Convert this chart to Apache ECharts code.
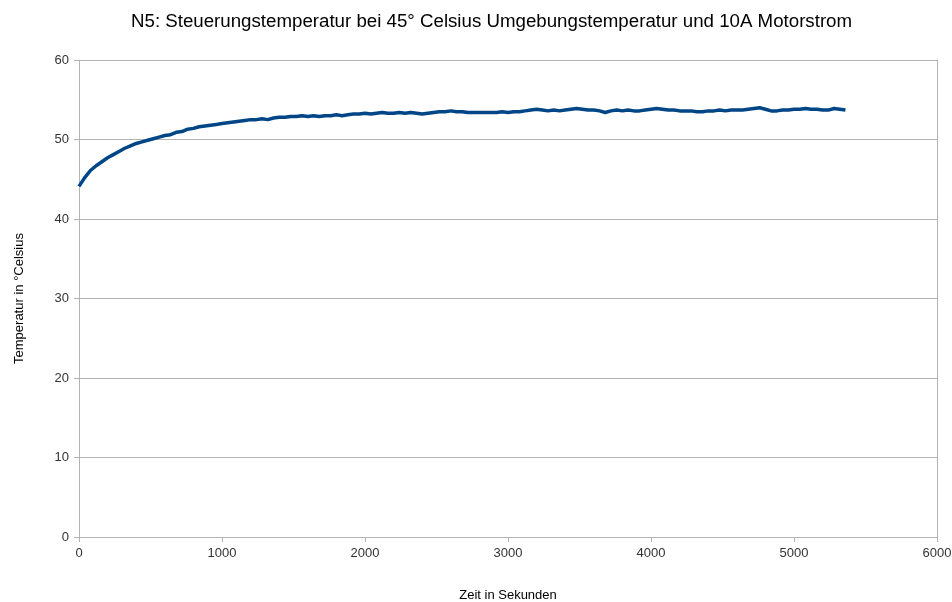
<!DOCTYPE html>
<html>
<head>
<meta charset="utf-8">
<script src="https://cdn.jsdelivr.net/npm/echarts@6/dist/echarts.min.js"></script>
<style>
html,body{margin:0;padding:0;background:#fff;}
#c{width:952px;height:602px;}
</style>
</head>
<body>
<div id="c"></div>
<script>
const titleText = "N5: Steuerungstemperatur bei 45° Celsius Umgebungstemperatur und 10A Motorstrom";
const xName = "Zeit in Sekunden";
const yName = "Temperatur in °Celsius";
const times = [0,40,80,120,160,200,240,280,320,360,400,440,480,520,560,600,640,680,720,760,800,840,880,920,960,1000,1040,1080,1120,1160,1200,1240,1280,1320,1360,1400,1440,1480,1520,1560,1600,1640,1680,1720,1760,1800,1840,1880,1920,1960,2000,2040,2080,2120,2160,2200,2240,2280,2320,2360,2400,2440,2480,2520,2560,2600,2640,2680,2720,2760,2800,2840,2880,2920,2960,3000,3040,3080,3120,3160,3200,3240,3280,3320,3360,3400,3440,3480,3520,3560,3600,3640,3680,3720,3760,3800,3840,3880,3920,3960,4000,4040,4080,4120,4160,4200,4240,4280,4320,4360,4400,4440,4480,4520,4560,4600,4640,4680,4720,4760,4800,4840,4880,4920,4960,5000,5040,5080,5120,5160,5200,5240,5280,5320,5360];
const temps = [44.1,45.2,46.1,46.7,47.2,47.7,48.1,48.5,48.9,49.2,49.5,49.7,49.9,50.1,50.3,50.5,50.6,50.9,51.0,51.3,51.4,51.6,51.7,51.8,51.9,52.0,52.1,52.2,52.3,52.4,52.5,52.5,52.6,52.5,52.7,52.8,52.8,52.9,52.9,53.0,52.9,53.0,52.9,53.0,53.0,53.1,53.0,53.1,53.2,53.2,53.3,53.2,53.3,53.4,53.3,53.3,53.4,53.3,53.4,53.3,53.2,53.3,53.4,53.5,53.5,53.6,53.5,53.5,53.4,53.4,53.4,53.4,53.4,53.4,53.5,53.4,53.5,53.5,53.6,53.7,53.8,53.7,53.6,53.7,53.6,53.7,53.8,53.9,53.8,53.7,53.7,53.6,53.4,53.6,53.7,53.6,53.7,53.6,53.6,53.7,53.8,53.9,53.8,53.7,53.7,53.6,53.6,53.6,53.5,53.5,53.6,53.6,53.7,53.6,53.7,53.7,53.7,53.8,53.9,54.0,53.8,53.6,53.6,53.7,53.7,53.8,53.8,53.9,53.8,53.8,53.7,53.7,53.9,53.8,53.7];

const data = times.map((t,i)=>[t,temps[i]]);
const chart = echarts.init(document.getElementById('c'));
const axisCol = '#b3b3b3';
const font = 'Liberation Sans';
chart.setOption({
  animation:false,
  title:{text:titleText,left:126,top:7,textStyle:{fontFamily:font,fontSize:18.7,fontWeight:'normal',color:'#000'}},
  grid:{left:79,right:15,top:60,bottom:65,outerBoundsMode:'none',containLabel:false},
  xAxis:{type:'value',min:0,max:6000,interval:1000,
    name:xName,nameLocation:'middle',nameGap:52,
    nameTextStyle:{fontFamily:font,fontSize:13,color:'#000'},
    axisLine:{show:true,onZero:false,lineStyle:{color:axisCol}},
    axisTick:{show:true,length:5,lineStyle:{color:axisCol}},
    axisLabel:{fontFamily:font,fontSize:13,color:'#333',margin:10,formatter:v=>String(v)},
    splitLine:{show:false}},
  yAxis:[{type:'value',min:0,max:60,interval:10,
    name:yName,nameLocation:'middle',nameGap:53,
    nameTextStyle:{fontFamily:font,fontSize:13,color:'#000'},
    axisLine:{show:true,lineStyle:{color:axisCol}},
    axisTick:{show:true,length:5,lineStyle:{color:axisCol}},
    axisLabel:{fontFamily:font,fontSize:13,color:'#333',margin:10},
    splitLine:{show:true,lineStyle:{color:axisCol}}},
   {type:'value',min:0,max:60,interval:10,position:'right',
    axisLine:{show:true,lineStyle:{color:axisCol}},
    axisTick:{show:false},axisLabel:{show:false},splitLine:{show:false}}],
  series:[{type:'line',data:data,showSymbol:false,smooth:false,yAxisIndex:0,
    lineStyle:{color:'#004586',width:3.5},itemStyle:{color:'#004586'}}]
});
</script>
</body>
</html>
